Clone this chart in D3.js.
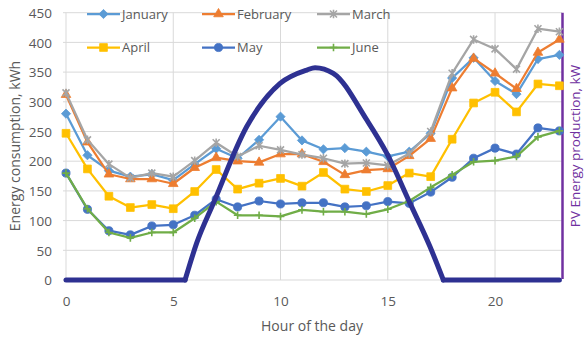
<!DOCTYPE html>
<html>
<head>
<meta charset="utf-8">
<script src="https://cdn.jsdelivr.net/npm/d3@7"></script>
<style>
  html, body { margin: 0; padding: 0; background: #fff; }
  svg { display: block; font-family: "Open Sans", "Liberation Sans", sans-serif; }
</style>
</head>
<body>
<svg id="chart" width="584" height="337"></svg>
<script>
// ---------- DATA ----------
const hours = [0,1,2,3,4,5,6,7,8,9,10,11,12,13,14,15,16,17,18,19,20,21,22,23];
const seriesNames = ["January","February","March","April","May","June"];
const january  = [280,210,184,174,178,168,195,221,205,236,275,235,220,222,216,208,216,247,340,374,335,313,372,379];
const february = [312,232,178,170,170,162,189,206,200,198,212,212,199,177,185,187,209,238,323,373,348,322,383,405];
const march    = [315,236,195,172,180,174,201,231,208,226,219,211,205,196,197,193,213,250,348,405,389,355,423,418];
const april    = [247,187,141,122,127,120,149,186,153,163,171,158,181,153,149,159,180,174,237,298,316,283,330,327];
const may      = [180,119,83,76,91,93,109,136,123,133,128,130,130,123,125,132,129,148,173,205,222,212,256,251];
const june     = [180,120,80,71,80,80,104,132,109,109,107,118,115,115,111,119,133,156,177,199,201,208,241,251];
// PV production (secondary axis, kW)
const pvHours  = [0, 5.55, 6.09, 6.87, 8.42, 9.98, 11.22, 11.61, 12.46, 14.02, 14.95, 16.04, 16.97, 17.59, 23];
const pvValues = [0, 0, 12.4, 25.8, 51.6, 66.2, 70.7, 71.5, 69.6, 53.9, 42.7, 25.8, 11.2, 0, 0];
const yTicks = [0,50,100,150,200,250,300,350,400,450];
const xTicks = [0,5,10,15,20];

// ---------- STYLE ----------
const colors = ["#5B9BD5","#ED7D31","#A5A5A5","#FFC000","#4472C4","#70AD47"];
const markers = ["diamond","triangle","star","square","circle","plus"];
const pvColor = "#2E3192";
const axis2Color = "#7030A0";
const textColor = "#595959";
const gridColor = "#D9D9D9";

const svg = d3.select("#chart");
const pLeft = 66, pRight = 559.4, pTop = 12.7, pBottom = 280;
const x = d3.scaleLinear().domain([0, 23]).range([pLeft, pRight]);
const y = d3.scaleLinear().domain([0, 450]).range([pBottom, pTop]);
const y2 = d3.scaleLinear().domain([0, 90]).range([pBottom, pTop]);

// gridlines
const g = svg.append("g");
g.selectAll("line.h").data(yTicks).join("line")
  .attr("x1", 63).attr("x2", 562).attr("y1", d => y(d)).attr("y2", d => y(d))
  .attr("stroke", gridColor).attr("stroke-width", 1);
g.selectAll("line.v").data(xTicks).join("line")
  .attr("x1", d => x(d)).attr("x2", d => x(d)).attr("y1", pTop).attr("y2", pBottom)
  .attr("stroke", gridColor).attr("stroke-width", 1);

// left axis (labels only)
const yAxis = d3.axisLeft(y).tickValues(yTicks).tickSize(0).tickPadding(0);
const ya = svg.append("g").attr("transform", "translate(52,0)").call(yAxis);
ya.select(".domain").remove();
ya.selectAll("text").attr("fill", textColor).style("font-size", "13.5px")
  .style("font-family", "'Open Sans', sans-serif").attr("dy", "0.35em");

// bottom axis (labels only)
const xAxis = d3.axisBottom(x).tickValues(xTicks).tickSize(0).tickPadding(0);
const xa = svg.append("g").attr("transform", "translate(0,296)").call(xAxis);
xa.select(".domain").remove();
xa.selectAll("text").attr("fill", textColor).style("font-size", "13.5px")
  .style("font-family", "'Open Sans', sans-serif");

// axis titles
svg.append("text").attr("transform", "translate(20,146) rotate(-90)")
  .attr("text-anchor", "middle").attr("fill", textColor).style("font-size", "14px")
  .text("Energy consumption, kWh");
svg.append("text").attr("x", 312).attr("y", 331)
  .attr("text-anchor", "middle").attr("fill", textColor).style("font-size", "14px")
  .text("Hour of the day");
svg.append("text").attr("transform", "translate(579.5,146) rotate(-90)")
  .attr("text-anchor", "middle").attr("fill", axis2Color).style("font-size", "13.5px")
  .text("PV Energy production, kW");

// right axis line
svg.append("line").attr("x1", 562.5).attr("x2", 562.5).attr("y1", pTop).attr("y2", pBottom - 1)
  .attr("stroke", axis2Color).attr("stroke-width", 2.5);

// marker generator
function markerPath(type) {
  switch (type) {
    case "diamond": return "M0,-4.6L4.6,0L0,4.6L-4.6,0Z";
    case "triangle": return d3.symbol().type(d3.symbolTriangle).size(40)();
    case "square": return d3.symbol().type(d3.symbolSquare).size(60)();
    case "circle": return d3.symbol().type(d3.symbolCircle).size(52)();
    case "star": return "M-3.5,-3.5L3.5,3.5M-3.5,3.5L3.5,-3.5M0,-4.2L0,4.2";
    case "plus": return "M0,-3.8L0,3.8M-3.8,0L3.8,0";
  }
}
function drawMarker(sel, i) {
  const t = markers[i];
  const open = (t === "star" || t === "plus");
  sel.attr("d", markerPath(t))
    .attr("fill", open ? "none" : colors[i])
    .attr("stroke", colors[i])
    .attr("stroke-width", open ? 1.6 : 0.8);
}

// series
const allSeries = [january, february, march, april, may, june];
const line = d3.line().x((d, i) => x(hours[i])).y(d => y(d));
allSeries.forEach((vals, i) => {
  const sg = svg.append("g");
  sg.append("path").datum(vals).attr("d", line)
    .attr("fill", "none").attr("stroke", colors[i]).attr("stroke-width", 2.25)
    .attr("stroke-linejoin", "round");
  sg.selectAll("path.m").data(vals).join("path").attr("class", "m")
    .attr("transform", (d, k) => `translate(${x(hours[k])},${y(d)})`)
    .call(s => drawMarker(s, i));
});

// PV line (flat parts linear, hump smoothed)
const pvPts = pvHours.map((h, i) => [h, pvValues[i]]);
let firstRise = pvPts.findIndex((p, i) => i + 1 < pvPts.length && pvPts[i + 1][1] > 0);
let lastFall = pvPts.length - 1 - [...pvPts].reverse().findIndex((p, i, arr) => i + 1 < arr.length && arr[i + 1][1] > 0);
const flatLine = d3.line().x(d => x(d[0])).y(d => y2(d[1]));
const humpLine = d3.line().x(d => x(d[0])).y(d => y2(d[1])).curve(d3.curveMonotoneX);
const pvG = svg.append("g").attr("fill", "none").attr("stroke", pvColor)
  .attr("stroke-width", 5).attr("stroke-linecap", "round").attr("stroke-linejoin", "round");
pvG.append("path").attr("d", flatLine(pvPts.slice(0, firstRise + 1)));
pvG.append("path").attr("d", humpLine(pvPts.slice(firstRise, lastFall + 1)));
pvG.append("path").attr("d", flatLine(pvPts.slice(lastFall)));

// legend
const legRows = [14, 47.5];
const legCols = [87, 202, 317];
seriesNames.forEach((name, i) => {
  const lx = legCols[i % 3], ly = legRows[Math.floor(i / 3)];
  const lg = svg.append("g");
  lg.append("line").attr("x1", lx).attr("x2", lx + 33).attr("y1", ly).attr("y2", ly)
    .attr("stroke", colors[i]).attr("stroke-width", 2.25);
  lg.append("path").attr("transform", `translate(${lx + 16.5},${ly})`).call(s => drawMarker(s, i));
  lg.append("text").attr("x", lx + 35).attr("y", ly).attr("dy", "0.35em")
    .attr("fill", textColor).style("font-size", "13px").text(name);
});
</script>
</body>
</html>
